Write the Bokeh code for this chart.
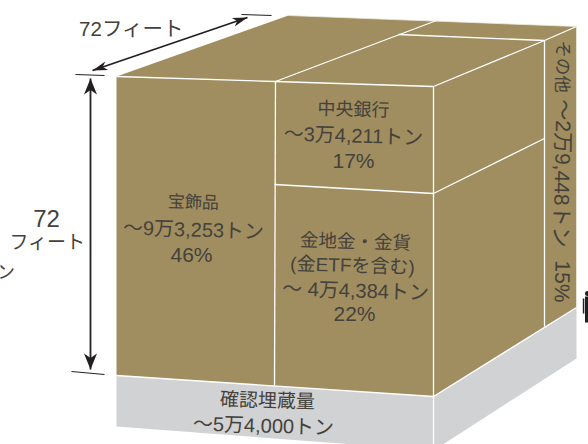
import math
from bokeh.embed import file_html
from bokeh.resources import INLINE
from bokeh.plotting import figure
from bokeh.models import Range1d
from bokeh.core.properties import value

# Holdings shown on the gold block
categories = ["宝飾品", "中央銀行", "金地金・金貨", "その他"]
tonnages = ["9万3,253", "3万4,211", "4万4,384", "2万9,448"]
shares = ["46%", "17%", "22%", "15%"]
reserve_name = "確認埋蔵量"
reserve_tonnage = "5万4,000"
edge_label = "72"

GOLD = "#a08e60"
GREY = "#d1d2d4"
INK = "#45413b"
FONT = value("Liberation Sans, Noto Sans CJK JP")

p = figure(width=588, height=444, output_backend="svg", toolbar_location=None,
           x_range=Range1d(0, 588), y_range=Range1d(444, 0),
           x_axis_type=None, y_axis_type=None, min_border=0)
p.grid.visible = False
p.outline_line_color = None
p.background_fill_color = "#ffffff"
p.border_fill_color = "#ffffff"

# Block faces in isometric page coordinates
p.patch([116, 433, 433, 116], [375, 396, 450, 426], fill_color=GREY, line_color=None)
p.patch([433, 576, 576, 433], [396, 307, 358, 450], fill_color=GREY, line_color=None)
p.patch([116, 288, 576, 576, 433, 433, 116], [76, 15, 26, 307, 396, 396, 375],
        fill_color=GOLD, line_color=None)

# Section boundaries
seams = [
    ([116, 275, 433, 544], [76, 81, 86, 40]),
    ([275, 274], [81, 385]),
    ([433, 433], [86, 450]),
    ([274, 433, 544], [184, 193, 138]),
    ([116, 433, 576], [375, 396, 307]),
    ([275, 436], [81, 20]),
    ([398, 544], [34, 40]),
    ([544, 544], [40, 326]),
    ([544, 576], [40, 26]),
]
for xs, ys in seams:
    p.line(xs, ys, line_color="#ffffff", line_width=1.3)
p.line([288, 576, 576], [15, 26, 307], line_color="#ece8dc", line_width=0.8)


def label(x, y, text, size=18, angle=-0.03):
    p.text([x], [y], text=[text], text_font=FONT, text_font_size=f"{size}px",
           text_color=INK, text_align="center", text_baseline="middle", angle=angle)


label(193, 202, categories[0], 17)
label(193, 229, f"〜{tonnages[0]}トン", 20)
label(191, 254, shares[0], 21, 0)

label(353, 109, categories[1], 18)
label(353, 135, f"〜{tonnages[1]}トン", 20)
label(353, 160, shares[1], 21, 0)

label(355, 241, categories[2], 18.5)
label(352, 265, "(金ETFを含む)", 19)
label(355, 290, f"〜 {tonnages[2]}トン", 20)
label(354, 313, shares[2], 21, 0)

# Side panel reads top to bottom
side = -math.pi / 2 - 0.02
label(562, 66, categories[3], 17.5, side)
label(562, 173, f"〜{tonnages[3]}トン", 21, side)
label(562, 281, shares[3], 21, side)

label(267, 400, reserve_name, 19)
label(263, 425, f"〜{reserve_tonnage}トン", 20)

# Dimension marks
label(131, 28, f"{edge_label}フィート", 20.5, 0)
label(46, 218, edge_label, 24, 0)
label(47, 242, "フィート", 19, 0)
label(5, 272, "ン", 19, 0)

arrow_ink = "#231f20"


def arrow_head(tip, tail, length, half_width, notch):
    # Barbed head pointing at tip, aligned with the shaft from tail
    dx, dy = tip[0] - tail[0], tip[1] - tail[1]
    n = math.hypot(dx, dy)
    ux, uy = dx / n, dy / n
    bx, by = tip[0] - ux * length, tip[1] - uy * length
    cx, cy = tip[0] - ux * notch, tip[1] - uy * notch
    p.patch([tip[0], bx - uy * half_width, cx, bx + uy * half_width],
            [tip[1], by + ux * half_width, cy, by - ux * half_width],
            fill_color=arrow_ink, line_color=None)


for a, b, length, half in [((92, 70), (247, 17), 15, 4.5), ((90, 78), (90, 369), 16, 6.5)]:
    p.line([a[0], b[0]], [a[1], b[1]], line_color=arrow_ink, line_width=1.8)
    arrow_head(a, b, length, half, length * 0.72)
    arrow_head(b, a, length, half, length * 0.72)

for xs, ys in [((75, 104), (74, 75)), ((241, 271), (14, 15)), ((71, 104), (371, 374))]:
    p.line(list(xs), list(ys), line_color=arrow_ink, line_width=1)

# Small human figure for scale
p.scatter([587], [293], size=5, marker="circle", fill_color=arrow_ink, line_color=None)
p.patch([584.5, 592, 592, 584.5], [296, 296, 322, 322], fill_color=arrow_ink, line_color=None)
p.patch([582.3, 583.8, 583.8, 582.3], [298, 298, 313, 313], fill_color=arrow_ink, line_color=None)

open("out.html", "w").write(file_html(p, INLINE))
